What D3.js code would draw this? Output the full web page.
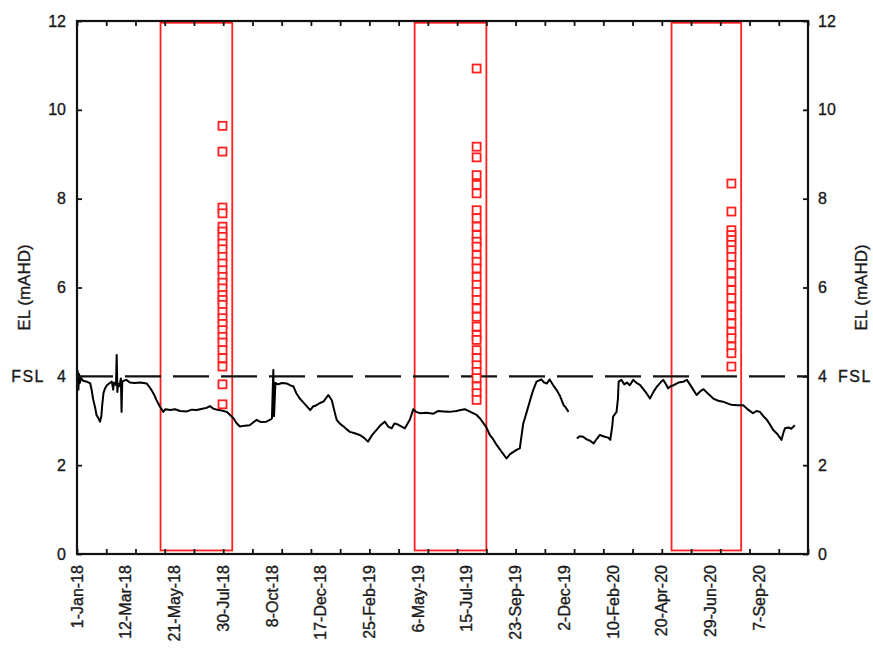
<!DOCTYPE html>
<html>
<head>
<meta charset="utf-8">
<script src="https://cdn.jsdelivr.net/npm/d3@7"></script>
<style>
  html, body { margin: 0; padding: 0; background: #fff; }
  svg { display: block; }
  text { font-family: "Liberation Sans", Arial, sans-serif; fill: #1a1a1a; stroke: #1a1a1a; stroke-width: 0.35px; }
</style>
</head>
<body>
<svg id="chart" width="873" height="651"></svg>
<script>
// Daily water level (EL, mAHD); a null entry marks the logger gap in Dec 2019
const waterLevel = [
  ["2018-01-01", 3.75], ["2018-01-02", 4.12], ["2018-01-03", 3.7], ["2018-01-04", 4.05],
  ["2018-01-05", 3.85], ["2018-01-07", 3.95], ["2018-01-10", 3.9], ["2018-01-15", 3.88],
  ["2018-01-20", 3.84], ["2018-01-22", 3.7], ["2018-01-24", 3.5], ["2018-01-27", 3.3],
  ["2018-01-29", 3.13], ["2018-02-01", 3.05], ["2018-02-03", 2.98], ["2018-02-05", 3.1],
  ["2018-02-06", 3.32], ["2018-02-08", 3.62], ["2018-02-10", 3.72], ["2018-02-13", 3.8],
  ["2018-02-17", 3.85], ["2018-02-20", 3.88], ["2018-02-22", 3.7], ["2018-02-23", 3.86],
  ["2018-02-26", 3.8], ["2018-02-27", 4.48], ["2018-02-28", 3.65], ["2018-03-01", 3.84],
  ["2018-03-03", 3.78], ["2018-03-05", 3.95], ["2018-03-06", 3.2], ["2018-03-07", 3.88],
  ["2018-03-09", 3.9], ["2018-03-13", 3.92], ["2018-03-18", 3.86], ["2018-03-25", 3.85],
  ["2018-04-02", 3.86], ["2018-04-11", 3.84], ["2018-04-15", 3.76], ["2018-04-18", 3.69],
  ["2018-04-22", 3.58], ["2018-04-25", 3.47], ["2018-04-30", 3.32], ["2018-05-05", 3.2],
  ["2018-05-08", 3.26], ["2018-05-15", 3.24], ["2018-05-22", 3.26], ["2018-05-29", 3.22],
  ["2018-06-08", 3.21], ["2018-06-15", 3.25], ["2018-06-22", 3.24], ["2018-06-30", 3.27],
  ["2018-07-06", 3.29], ["2018-07-11", 3.33], ["2018-07-16", 3.27], ["2018-07-21", 3.25],
  ["2018-07-28", 3.23], ["2018-08-04", 3.2], ["2018-08-09", 3.13], ["2018-08-14", 3.05],
  ["2018-08-18", 2.95], ["2018-08-23", 2.87], ["2018-08-30", 2.89], ["2018-09-06", 2.9],
  ["2018-09-11", 2.96], ["2018-09-16", 3.02], ["2018-09-22", 2.97], ["2018-09-30", 2.98],
  ["2018-10-05", 3.02], ["2018-10-08", 3.05], ["2018-10-09", 3.6], ["2018-10-10", 4.14],
  ["2018-10-11", 3.1], ["2018-10-13", 3.85], ["2018-10-17", 3.82], ["2018-10-22", 3.85],
  ["2018-10-29", 3.84], ["2018-11-03", 3.8], ["2018-11-08", 3.77], ["2018-11-12", 3.62],
  ["2018-11-17", 3.5], ["2018-11-24", 3.38], ["2018-12-02", 3.24], ["2018-12-06", 3.32],
  ["2018-12-11", 3.35], ["2018-12-16", 3.4], ["2018-12-21", 3.43], ["2018-12-28", 3.58],
  ["2019-01-02", 3.46], ["2019-01-06", 3.2], ["2019-01-09", 3.02], ["2019-01-14", 2.93],
  ["2019-01-19", 2.87], ["2019-01-24", 2.8], ["2019-01-28", 2.75], ["2019-02-04", 2.72],
  ["2019-02-11", 2.68], ["2019-02-17", 2.62], ["2019-02-23", 2.53], ["2019-03-01", 2.68],
  ["2019-03-07", 2.79], ["2019-03-13", 2.9], ["2019-03-19", 2.98], ["2019-03-24", 2.87],
  ["2019-03-29", 2.83], ["2019-04-02", 2.94], ["2019-04-05", 2.93], ["2019-04-11", 2.88],
  ["2019-04-17", 2.83], ["2019-04-24", 3.02], ["2019-04-29", 3.26], ["2019-05-03", 3.2],
  ["2019-05-09", 3.17], ["2019-05-18", 3.18], ["2019-05-28", 3.16], ["2019-06-04", 3.22],
  ["2019-06-11", 3.21], ["2019-06-20", 3.2], ["2019-06-30", 3.22], ["2019-07-06", 3.24],
  ["2019-07-12", 3.26], ["2019-07-20", 3.2], ["2019-07-29", 3.13], ["2019-08-03", 3.05],
  ["2019-08-08", 2.94], ["2019-08-12", 2.85], ["2019-08-17", 2.68], ["2019-08-22", 2.58],
  ["2019-08-27", 2.45], ["2019-09-03", 2.3], ["2019-09-10", 2.15], ["2019-09-15", 2.25],
  ["2019-09-20", 2.3], ["2019-09-25", 2.35], ["2019-09-29", 2.38], ["2019-10-04", 2.94],
  ["2019-10-09", 3.2], ["2019-10-14", 3.47], ["2019-10-18", 3.68], ["2019-10-23", 3.88],
  ["2019-10-30", 3.93], ["2019-11-03", 3.86], ["2019-11-07", 3.84], ["2019-11-11", 3.93],
  ["2019-11-16", 3.8], ["2019-11-21", 3.69], ["2019-11-26", 3.55], ["2019-12-01", 3.35],
  ["2019-12-04", 3.3], ["2019-12-08", 3.2], ["2019-12-14", null], ["2019-12-20", 2.6],
  ["2019-12-24", 2.65], ["2019-12-29", 2.64], ["2020-01-03", 2.58], ["2020-01-08", 2.55],
  ["2020-01-13", 2.49], ["2020-01-18", 2.6], ["2020-01-22", 2.68], ["2020-01-29", 2.64],
  ["2020-02-03", 2.62], ["2020-02-06", 2.57], ["2020-02-09", 2.9], ["2020-02-10", 3.09],
  ["2020-02-15", 3.2], ["2020-02-17", 3.5], ["2020-02-18", 3.88], ["2020-02-22", 3.92],
  ["2020-02-26", 3.82], ["2020-03-01", 3.86], ["2020-03-05", 3.8], ["2020-03-10", 3.92],
  ["2020-03-15", 3.85], ["2020-03-20", 3.8], ["2020-03-25", 3.7], ["2020-03-29", 3.62],
  ["2020-04-03", 3.5], ["2020-04-08", 3.65], ["2020-04-13", 3.77], ["2020-04-18", 3.86],
  ["2020-04-22", 3.92], ["2020-04-26", 3.82], ["2020-04-29", 3.73], ["2020-05-03", 3.78],
  ["2020-05-07", 3.8], ["2020-05-14", 3.86], ["2020-05-21", 3.88], ["2020-05-26", 3.92],
  ["2020-06-01", 3.78], ["2020-06-09", 3.58], ["2020-06-14", 3.66], ["2020-06-19", 3.71],
  ["2020-06-26", 3.6], ["2020-07-03", 3.5], ["2020-07-10", 3.45], ["2020-07-17", 3.43],
  ["2020-07-25", 3.38], ["2020-07-29", 3.36], ["2020-08-06", 3.35], ["2020-08-15", 3.35],
  ["2020-08-22", 3.25], ["2020-08-29", 3.17], ["2020-09-03", 3.22], ["2020-09-08", 3.2],
  ["2020-09-13", 3.1], ["2020-09-18", 3.02], ["2020-09-23", 2.9], ["2020-09-27", 2.79],
  ["2020-10-03", 2.7], ["2020-10-09", 2.57], ["2020-10-12", 2.75], ["2020-10-14", 2.83],
  ["2020-10-19", 2.85], ["2020-10-23", 2.82], ["2020-10-28", 2.9]
];

// Sampling windows (boxes)
const windowStarts = ["2018-05-01", "2019-05-01", "2020-05-04"];
const windowEnds   = ["2018-08-12", "2019-08-12", "2020-08-12"];

// Sampled elevations, one column per sampling date
const sampleDates = ["2018-07-29", "2019-07-29", "2020-07-29"];
const samples2018 = [9.64, 9.06, 7.8, 7.67, 7.37, 7.26, 7.14, 6.99, 6.86, 6.69, 6.54, 6.39,
  6.24, 6.11, 5.98, 5.83, 5.72, 5.61, 5.45, 5.31, 5.18, 5.04, 4.89, 4.76, 4.59, 4.41, 4.22,
  3.82, 3.37];
const samples2019 = [10.93, 9.17, 8.93, 8.53, 8.31, 8.12, 7.74, 7.56, 7.37, 7.18, 7.03, 6.92,
  6.73, 6.58, 6.43, 6.24, 6.06, 5.9, 5.72, 5.53, 5.34, 5.12, 4.93, 4.82, 4.59, 4.41, 4.25,
  4.1, 3.96, 3.77, 3.62, 3.47];
const samples2020 = [8.34, 7.71, 7.29, 7.18, 7.07, 6.96, 6.84, 6.69, 6.51, 6.32, 6.13, 5.94,
  5.76, 5.57, 5.38, 5.19, 5.0, 4.86, 4.67, 4.52, 4.22];

// Full supply level
const fsl = 4;

// Axis settings
const yTicks = [0, 2, 4, 6, 8, 10, 12];
const xLabelDates = ["2018-01-01", "2018-03-12", "2018-05-21", "2018-07-30", "2018-10-08",
  "2018-12-17", "2019-02-25", "2019-05-06", "2019-07-15", "2019-09-23", "2019-12-02",
  "2020-02-10", "2020-04-20", "2020-06-29", "2020-09-07"];
const xStart = "2018-01-01", xEnd = "2020-11-16";

const parse = d3.utcParse("%Y-%m-%d");
const fmt = d3.utcFormat("%-d-%b-%y");

const margin = { left: 77, right: 65, top: 21, bottom: 97 };
const W = 873, H = 651;
const svg = d3.select("#chart");
svg.append("rect").attr("width", W).attr("height", H).attr("fill", "#fff");

const x = d3.scaleUtc().domain([parse(xStart), parse(xEnd)]).range([margin.left, W - margin.right]);
const y = d3.scaleLinear().domain([0, 12]).range([H - margin.bottom, margin.top]);

const x0 = x.range()[0], x1 = x.range()[1];
const y0 = y.range()[0], y1 = y.range()[1];

// Ticks every six weeks along the time axis
const tickDates = d3.utcDay.range(parse(xStart), d3.utcDay.offset(parse(xEnd), 1), 1)
  .filter((d, i) => i % 42 === 0);

const axisColor = "#111";
const tickLen = 5;

// Sampling windows
const boxes = windowStarts.map((s, i) => ({ start: parse(s), end: parse(windowEnds[i]) }));
svg.append("g").selectAll("rect").data(boxes).join("rect")
  .attr("x", d => x(d.start))
  .attr("width", d => x(d.end) - x(d.start))
  .attr("y", y(11.96))
  .attr("height", y(0.08) - y(11.96))
  .attr("fill", "none")
  .attr("stroke", "#ff1f1f")
  .attr("stroke-width", 1.8);

// FSL dashed line
svg.append("line")
  .attr("x1", x0).attr("x2", x1)
  .attr("y1", y(fsl)).attr("y2", y(fsl))
  .attr("stroke", "#111").attr("stroke-width", 2.2)
  .attr("stroke-dasharray", "36,12");

// Water level line
const series = waterLevel.map(([d, v]) => ({ date: parse(d), value: v }));
const line = d3.line()
  .defined(d => d.value !== null)
  .x(d => x(d.date))
  .y(d => y(d.value));
svg.append("path")
  .datum(series)
  .attr("d", line)
  .attr("fill", "none")
  .attr("stroke", "#000")
  .attr("stroke-width", 2)
  .attr("stroke-linejoin", "round");

// Sample markers
const sampleSets = [samples2018, samples2019, samples2020];
const points = sampleSets.flatMap((arr, i) => arr.map(v => ({ date: parse(sampleDates[i]), value: v })));
const sz = 8;
svg.append("g").selectAll("rect").data(points).join("rect")
  .attr("x", d => x(d.date) - sz / 2)
  .attr("y", d => y(d.value) - sz / 2)
  .attr("width", sz).attr("height", sz)
  .attr("fill", "#fff")
  .attr("stroke", "#ff1f1f")
  .attr("stroke-width", 1.8);

// Axes (ticks point inward)
const fmtY = d => d;
svg.append("g").attr("transform", `translate(0,${y0})`)
  .call(d3.axisBottom(x).tickValues(tickDates).tickSize(-tickLen).tickFormat(""))
  .call(g => g.select(".domain").remove());
svg.append("g").attr("transform", `translate(0,${y1})`)
  .call(d3.axisTop(x).tickValues(tickDates).tickSize(-tickLen).tickFormat(""))
  .call(g => g.select(".domain").remove());
svg.append("g").attr("transform", `translate(${x0},0)`)
  .call(d3.axisLeft(y).tickValues(yTicks).tickSize(-tickLen).tickFormat(""))
  .call(g => g.select(".domain").remove());
svg.append("g").attr("transform", `translate(${x1},0)`)
  .call(d3.axisRight(y).tickValues(yTicks).tickSize(-tickLen).tickFormat(""))
  .call(g => g.select(".domain").remove());
svg.selectAll(".tick line").attr("stroke", axisColor).attr("stroke-width", 1.8);

// Frame
svg.append("rect")
  .attr("x", x0).attr("y", y1)
  .attr("width", x1 - x0).attr("height", y0 - y1)
  .attr("fill", "none").attr("stroke", axisColor).attr("stroke-width", 2.2);

// Y tick labels (both sides)
svg.append("g").selectAll("text").data(yTicks).join("text")
  .attr("x", x0 - 11).attr("y", d => y(d)).attr("dy", "0.35em")
  .attr("text-anchor", "end").attr("font-size", 16).text(fmtY);
svg.append("g").selectAll("text").data(yTicks).join("text")
  .attr("x", x1 + 10).attr("y", d => y(d)).attr("dy", "0.35em")
  .attr("text-anchor", "start").attr("font-size", 16).text(fmtY);

// FSL labels
svg.append("text").attr("x", x0 - 32).attr("y", y(fsl)).attr("dy", "0.35em")
  .attr("text-anchor", "end").attr("font-size", 16).attr("letter-spacing", 1.5).text("FSL");
svg.append("text").attr("x", x1 + 30).attr("y", y(fsl)).attr("dy", "0.35em")
  .attr("text-anchor", "start").attr("font-size", 16).attr("letter-spacing", 1.5).text("FSL");

// X tick labels, rotated
svg.append("g").selectAll("text").data(xLabelDates.map(parse)).join("text")
  .attr("transform", d => `translate(${x(d)},${y0 + 11}) rotate(-90)`)
  .attr("dy", "0.35em")
  .attr("text-anchor", "end").attr("font-size", 16)
  .text(fmt);

// Axis titles
const yMid = (y0 + y1) / 2;
svg.append("text").attr("transform", `translate(24,${yMid}) rotate(-90)`)
  .attr("dy", "0.35em").attr("text-anchor", "middle").attr("font-size", 17)
  .text("EL (mAHD)");
svg.append("text").attr("transform", `translate(861,${yMid}) rotate(-90)`)
  .attr("dy", "0.35em").attr("text-anchor", "middle").attr("font-size", 17)
  .text("EL (mAHD)");
</script>
</body>
</html>
